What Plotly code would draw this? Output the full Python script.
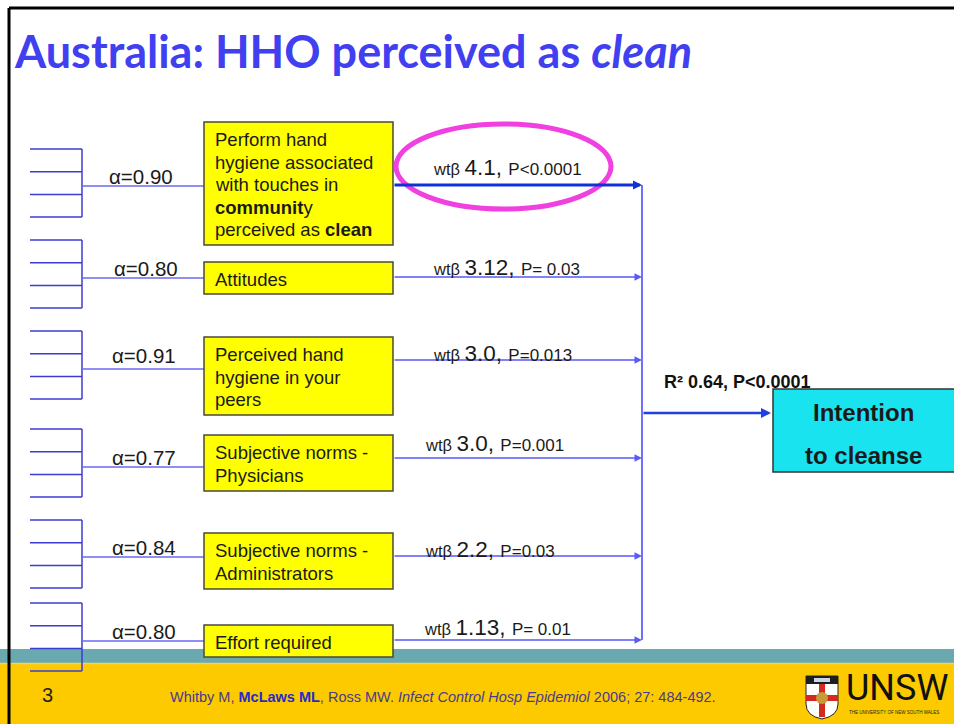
import plotly.graph_objects as go

# ---- data ----
constructs = [
    "Perform hand<br>hygiene associated<br>with touches in<br><b>communit</b>y<br>perceived as <b>clean</b>",
    "Attitudes",
    "Perceived hand<br>hygiene in your<br>peers",
    "Subjective norms -<br>Physicians",
    "Subjective norms -<br>Administrators",
    "Effort required",
]
alphas = [0.90, 0.80, 0.91, 0.77, 0.84, 0.80]
wt_betas = ["4.1", "3.12", "3.0", "3.0", "2.2", "1.13"]
p_values = ["P<0.0001", "P= 0.03", "P=0.013", "P=0.001", "P=0.03", "P= 0.01"]
items_per_scale = 4
outcome = "Intention<br>to cleanse"
r_squared = 0.64
r_squared_p = "P<0.0001"
title = "<b>Australia: HHO perceived as <i>clean</i></b>"
citation = ("Whitby M, <b><span style='color:#2a2ac8'>McLaws ML</span></b>, Ross MW. "
            "<i>Infect Control Hosp Epidemiol</i> 2006; 27: 484-492.")
slide_no = "3"

# ---- layout (pixel positions on the slide) ----
W, H = 954, 724
box_top = [122, 262, 337, 435, 533, 625]
box_bot = [245, 294, 415, 491, 589, 657]
join_y = [186, 278, 369, 467, 557, 641]
arrow_y = [185, 277, 360, 458, 556, 640]
bracket_top = [149, 240, 331, 429, 520, 603]
alpha_pos = [(107, 176), (112, 268), (110, 355), (110, 457), (110, 547), (110, 631)]
wt_pos = [(431, 167), (431, 267), (431, 353), (423, 443), (423, 549), (422, 627)]
box_x0, box_x1 = 204, 393
bus_x = 642
ARIAL = "Liberation Sans, Arial, sans-serif"

shapes = []
ann = []


def line(x0, y0, x1, y1, color, width):
    shapes.append(dict(type="line", x0=x0, y0=y0, x1=x1, y1=y1,
                       line=dict(color=color, width=width)))


def arrow(x0, x1, y, color, width, size=1.1):
    ann.append(dict(x=x1, y=y, ax=x0, ay=y, axref="x", ayref="y", xref="x", yref="y",
                    text="", showarrow=True, arrowhead=2, arrowsize=size,
                    arrowwidth=width, arrowcolor=color))


def text(x, y, s, size, color="#1a1a1a", anchor="left", family=ARIAL):
    ann.append(dict(x=x, y=y, xref="x", yref="y", text=s, showarrow=False,
                    xanchor=anchor, yanchor="middle",
                    font=dict(family=family, size=size, color=color)))


# footer bands
shapes.append(dict(type="rect", x0=0, x1=W, y0=649, y1=663, line=dict(width=0),
                   fillcolor="#6aa9b0", layer="below"))
shapes.append(dict(type="rect", x0=0, x1=W, y0=663, y1=H, line=dict(width=0),
                   fillcolor="#fdca00", layer="below"))
line(0, 663.5, W, 663.5, "#f0d36a", 1.5)

# slide frame
line(9, 8, 9, H, "#000000", 3)
line(9, 8, W, 8, "#000000", 3)

# title
text(12, 51, title, 45, color="#4040f0", family="Lato")

for i, name in enumerate(constructs):
    # item bracket on the left
    ys = [bracket_top[i] + k * 22.7 for k in range(items_per_scale)]
    for y in ys:
        line(30, y, 82, y, "#3c3cd0", 1.5)
    line(82, ys[0], 82, ys[-1], "#3c3cd0", 1.5)
    line(82, join_y[i], box_x0, join_y[i], "#6868f0", 1.5)
    ax_, ay_ = alpha_pos[i]
    text(ax_, ay_, f"\u03b1={alphas[i]:.2f}", 20.5)

    # construct box
    shapes.append(dict(type="rect", x0=box_x0, x1=box_x1, y0=box_top[i], y1=box_bot[i],
                       fillcolor="#ffff00", line=dict(color="#4a4a3a", width=1.5)))
    for k, part in enumerate(name.split("<br>")):
        text(box_x0 + 9, box_top[i] + 17.5 + k * 22.6, part, 18.5)

    # path to outcome
    if i == 0:
        arrow(box_x1, bus_x, arrow_y[i], "#1030d8", 3, size=0.6)
    else:
        arrow(box_x1, bus_x, arrow_y[i], "#5a5af5", 1.5, size=1.0)
    wx, wy = wt_pos[i]
    text(wx, wy, f"<span style='font-size:16.5px'>wt\u03b2 </span>{wt_betas[i]}, "
                 f"<span style='font-size:17px'>{p_values[i]}</span>", 22.5)

# bus line
line(bus_x, arrow_y[0], bus_x, arrow_y[-1], "#7070ff", 2)

# highlight ellipse
shapes.append(dict(type="circle", x0=396, x1=611, y0=124, y1=209,
                   line=dict(color="#f040e0", width=5)))

# outcome box
shapes.append(dict(type="rect", x0=773, x1=W + 5, y0=389, y1=472,
                   fillcolor="#19e3ef", line=dict(color="#333333", width=1.5)))
arrow(bus_x, 771, 413, "#1f3fe0", 2.5, size=0.8)
text(662, 382, f"<b>R\u00b2 {r_squared:.2f}, {r_squared_p}</b>", 18, color="#111111")
for k, part in enumerate(outcome.split("<br>")):
    text(863, 412 + k * 43, f"<b>{part}</b>", 24, color="#1a1a1a", anchor="center")

# footer text
text(40, 695, slide_no, 20, color="#222222")
text(168, 697, citation, 14.5, color="#4a3a8c")

# UNSW crest (simplified)
shapes.append(dict(type="path",
                   path="M 806 676 L 838 676 L 838 704 Q 838 716 822 719 Q 806 716 806 704 Z",
                   fillcolor="#ffffff", line=dict(color="#222222", width=1)))
shapes.append(dict(type="rect", x0=806, x1=838, y0=676, y1=684,
                   fillcolor="#1e1e1e", line=dict(width=0)))
shapes.append(dict(type="rect", x0=814, x1=830, y0=678, y1=682,
                   fillcolor="#c8d4e8", line=dict(width=0)))
shapes.append(dict(type="rect", x0=819, x1=825, y0=684, y1=717,
                   fillcolor="#d22a1e", line=dict(width=0)))
shapes.append(dict(type="rect", x0=806, x1=838, y0=695, y1=701,
                   fillcolor="#d22a1e", line=dict(width=0)))
shapes.append(dict(type="circle", x0=816, x1=828, y0=692, y1=704,
                   fillcolor="#c89a3a", line=dict(width=0)))
text(844, 688, "UNSW", 36, color="#111111", family="Roboto")
text(894, 712, "THE UNIVERSITY OF NEW SOUTH WALES", 4.5, color="#222222", anchor="center")

fig = go.Figure()
fig.update_layout(
    width=W, height=H,
    margin=dict(l=0, r=0, t=0, b=0),
    paper_bgcolor="white", plot_bgcolor="white",
    xaxis=dict(range=[0, W], visible=False, fixedrange=True),
    yaxis=dict(range=[H, 0], visible=False, fixedrange=True),
    shapes=shapes, annotations=ann, showlegend=False,
)
fig.write_html("out.html", post_script="document.body.style.margin='0';",
               config={"displayModeBar": False})
